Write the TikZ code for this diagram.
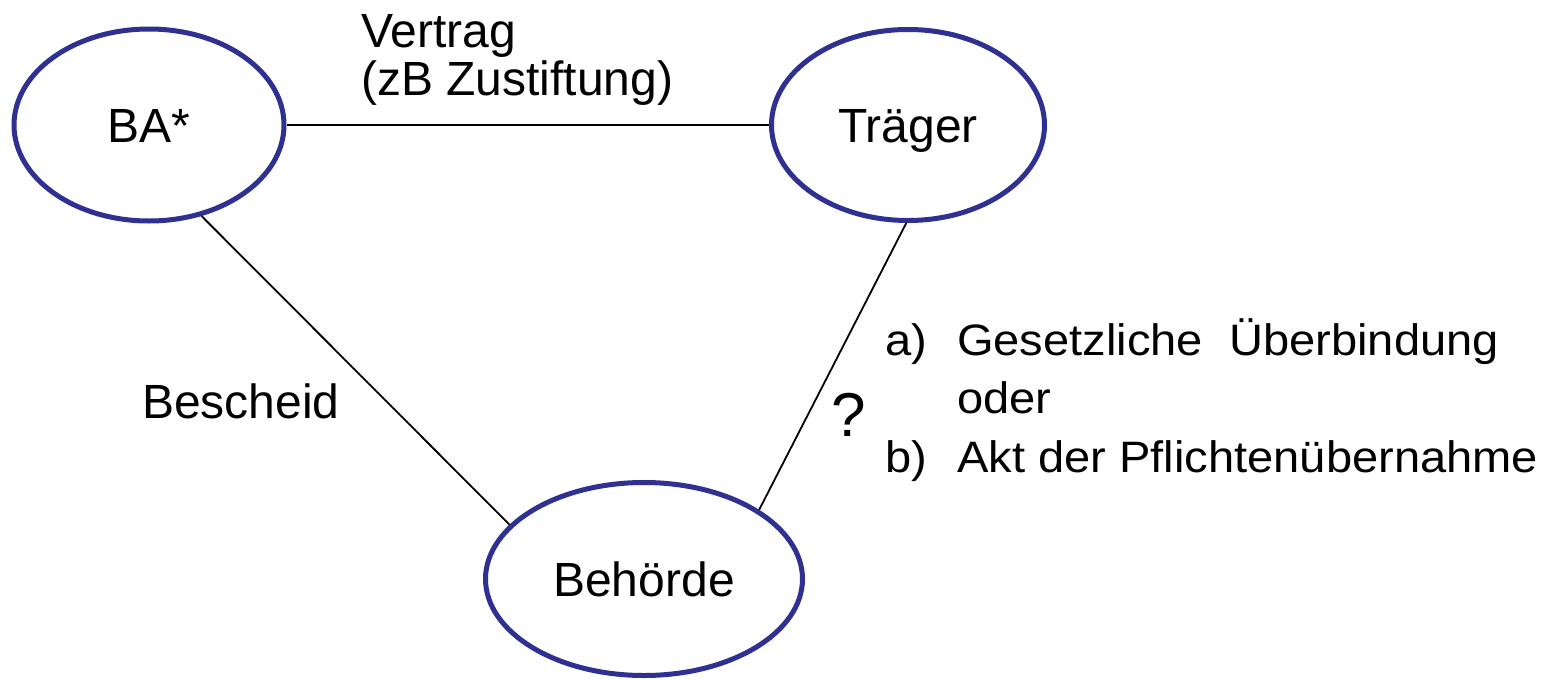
\documentclass[tikz,border=0pt]{standalone}
\usepackage{fontspec}
\usepackage{graphicx}
\setmainfont{Liberation Sans}
\usetikzlibrary{shapes.geometric}
\definecolor{ovalblue}{RGB}{46,49,146}
\tikzset{
  oval/.style={ellipse, draw=ovalblue, line width=5pt, inner sep=0pt,
    text height=34pt, text depth=0pt, font=\fontsize{48}{48}\selectfont},
  link/.style={draw=black, line width=1.8pt},
  lbl/.style={inner sep=0pt, anchor=base west, align=left, font=\fontsize{48}{48}\selectfont}
}
\begin{document}
\begin{tikzpicture}[x=1pt,y=-1pt]
\useasboundingbox (0,0) rectangle (1561,680);
\fill[white] (0,0) rectangle (1561,680);

\node[oval, minimum width=270pt, minimum height=192pt] (ba) at (149,125) {BA*};
\node[oval, minimum width=273pt, minimum height=191pt] (tr) at (908,125) {Träger};
\node[oval, minimum width=317pt, minimum height=193pt] (beh) at (644,579) {Behörde};

\draw[link] (ba.east) -- (tr.west);
\draw[link] (ba.-60) -- (beh.158);
\draw[link] (tr.-91) -- (beh.31);

% multi-line nodes: base anchor is the baseline of the last line
\node[lbl] (vertrag) at (361,95) {Vertrag\\(zB Zustiftung)};
\node[lbl] (bescheid) at (142,418) {Bescheid};
\node[lbl, font=\fontsize{62}{62}\selectfont] (frage) at (831,436) {?};
\node[lbl, font=\fontsize{44}{58.5}\selectfont] (liste) at (885,472)
  {\scalebox{1.07}[1]{\makebox[67.3pt][l]{a)}Gesetzliche\ \ Überbindung}\\
   \scalebox{1.07}[1]{\makebox[67.3pt][l]{}oder}\\
   \scalebox{1.07}[1]{\makebox[67.3pt][l]{b)}Akt der Pflichtenübernahme}};
\end{tikzpicture}
\end{document}
